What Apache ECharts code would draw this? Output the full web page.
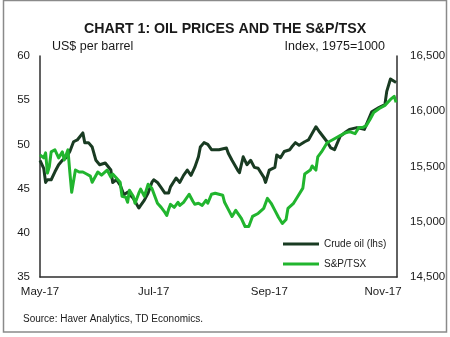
<!DOCTYPE html>
<html>
<head>
<meta charset="utf-8">
<script src="https://cdn.jsdelivr.net/npm/echarts@6/dist/echarts.min.js"></script>
<style>
  html, body { margin: 0; padding: 0; background: #fff; }
  #chart { width: 450px; height: 337px; }
</style>
</head>
<body>
<div id="chart"></div>
<script>
// Crude oil price, US$ per barrel (left axis)
const crudeDates = [
  '2017-05-01','2017-05-03','2017-05-04','2017-05-05','2017-05-07','2017-05-09','2017-05-11','2017-05-13','2017-05-15','2017-05-17',
  '2017-05-19','2017-05-21','2017-05-24','2017-05-25','2017-05-27','2017-05-29','2017-05-31',
  '2017-06-02','2017-06-05','2017-06-06','2017-06-08','2017-06-09','2017-06-11','2017-06-13','2017-06-15','2017-06-17','2017-06-20',
  '2017-06-23','2017-06-24','2017-06-26','2017-06-28','2017-06-30',
  '2017-07-01','2017-07-03','2017-07-05','2017-07-07','2017-07-09','2017-07-10','2017-07-13','2017-07-15','2017-07-17','2017-07-19',
  '2017-07-21','2017-07-23','2017-07-25','2017-07-26','2017-07-28','2017-07-30',
  '2017-08-01','2017-08-02','2017-08-05','2017-08-09','2017-08-10','2017-08-12','2017-08-15','2017-08-16','2017-08-18','2017-08-20',
  '2017-08-22','2017-08-24','2017-08-26','2017-08-29','2017-08-30',
  '2017-09-01','2017-09-04','2017-09-05','2017-09-07','2017-09-09','2017-09-12','2017-09-13','2017-09-15','2017-09-17','2017-09-20',
  '2017-09-22','2017-09-26','2017-09-28',
  '2017-10-02','2017-10-04','2017-10-06','2017-10-07','2017-10-09','2017-10-12','2017-10-14','2017-10-18','2017-10-22','2017-10-26',
  '2017-10-30',
  '2017-11-02','2017-11-03','2017-11-05','2017-11-06','2017-11-08'
];
const crudeValues = [
  48.2, 47.3, 45.7, 46.0, 46.0, 46.9, 47.7, 48.2, 48.5, 49.2,
  50.3, 50.5, 51.3, 50.2, 50.2, 49.7, 48.2,
  47.7, 47.9, 48.0, 47.1, 45.7, 46.0, 45.4, 44.3, 44.6, 43.9,
  42.8, 43.1, 43.7, 44.5, 45.7,
  46.0, 45.7, 45.1, 44.5, 44.5, 45.2, 46.2, 45.7, 46.5, 47.1,
  46.5, 47.4, 48.6, 49.7, 50.2, 50.0,
  49.4, 49.6, 49.4, 49.6, 49.0, 48.2, 47.1, 46.8, 48.6, 47.7,
  48.2, 47.4, 47.3, 46.3, 45.7,
  47.1, 47.4, 48.8, 48.5, 49.2, 49.4, 49.7, 50.2, 49.9, 50.3,
  50.5, 52.0, 51.4,
  50.3, 49.6, 49.4, 49.4, 50.9, 51.4, 51.7, 51.9, 51.7, 53.7,
  54.2,
  54.5, 56.0, 57.4, 57.4, 57.0
];

// S&P/TSX composite index, 1975=1000 (right axis)
const tsxDates = [
  '2017-05-01','2017-05-03','2017-05-04','2017-05-05','2017-05-06','2017-05-07','2017-05-09','2017-05-11','2017-05-13','2017-05-14',
  '2017-05-16','2017-05-17','2017-05-18','2017-05-19','2017-05-20','2017-05-22','2017-05-24','2017-05-26','2017-05-28','2017-05-29',
  '2017-06-01','2017-06-03','2017-06-06','2017-06-08','2017-06-09','2017-06-11','2017-06-13','2017-06-14','2017-06-16','2017-06-17',
  '2017-06-18','2017-06-20','2017-06-21','2017-06-23','2017-06-24','2017-06-26','2017-06-28','2017-06-30',
  '2017-07-02','2017-07-03','2017-07-05','2017-07-07','2017-07-08','2017-07-09','2017-07-10','2017-07-12','2017-07-14','2017-07-15',
  '2017-07-17','2017-07-18','2017-07-20','2017-07-22','2017-07-23','2017-07-25','2017-07-27','2017-07-29','2017-07-30',
  '2017-08-01','2017-08-03','2017-08-04','2017-08-07','2017-08-08','2017-08-10','2017-08-12','2017-08-14','2017-08-15','2017-08-17',
  '2017-08-19','2017-08-21','2017-08-23','2017-08-24','2017-08-26','2017-08-29','2017-08-31',
  '2017-09-02','2017-09-04','2017-09-06','2017-09-08','2017-09-10','2017-09-11','2017-09-14','2017-09-16','2017-09-19','2017-09-20',
  '2017-09-23','2017-09-24','2017-09-26','2017-09-27','2017-09-29',
  '2017-10-02','2017-10-05','2017-10-06','2017-10-09','2017-10-12','2017-10-14','2017-10-17','2017-10-19','2017-10-21','2017-10-23',
  '2017-10-25','2017-10-27','2017-10-30',
  '2017-11-02','2017-11-05','2017-11-07','2017-11-08'
];
const tsxValues = [
  15605, 15578, 15623, 15440, 15500, 15632, 15651, 15578, 15632, 15559,
  15651, 15450, 15267, 15285, 15468, 15450, 15450, 15432, 15413, 15358,
  15450, 15422, 15468, 15404, 15432, 15395, 15358, 15231, 15222, 15176,
  15285, 15231, 15167, 15258, 15295, 15231, 15340, 15304,
  15212, 15167, 15130, 15085, 15057, 15112, 15158, 15130, 15176, 15148,
  15176, 15167, 15249, 15185, 15158, 15167, 15148, 15194, 15167,
  15249, 15258, 15240, 15240, 15176, 15112, 15048, 15103, 15085, 15030,
  14957, 14957, 15048, 15057, 15075, 15121, 15212,
  15167, 15103, 15039, 14984, 15021, 15121, 15167, 15222, 15304, 15432,
  15468, 15505, 15468, 15587, 15632,
  15715, 15742, 15733, 15779, 15806, 15815, 15797, 15852, 15852, 15870,
  15925, 15989, 16025,
  16053, 16107, 16135, 16080
];

// Axis ticks and ranges
const monthTicks = ['2017-05-01', '2017-07-01', '2017-09-01', '2017-11-01'];
const xStart = '2017-05-01';
const xEnd = '2017-11-08';
const leftAxis = { min: 35, max: 60, step: 5 };
const rightAxis = { min: 14500, max: 16500, step: 500 };

const MONTHS = ['Jan','Feb','Mar','Apr','May','Jun','Jul','Aug','Sep','Oct','Nov','Dec'];
const DAY = 24 * 3600 * 1000;

function ts(s) {
  const [y, m, d] = s.split('-').map(Number);
  return Date.UTC(y, m - 1, d);
}
function pairs(dates, values) {
  return dates.map((d, i) => [ts(d), values[i]]);
}
function monthLabel(v) {
  const d = new Date(v);
  return MONTHS[d.getUTCMonth()] + '-' + String(d.getUTCFullYear()).slice(2);
}

const FONT = '"Liberation Sans", Arial, sans-serif';
const INK = '#1a1a1a';
const AXIS = '#2e2e2e';
const CRUDE = '#193b22';
const TSX = '#21b52e';

const chart = echarts.init(document.getElementById('chart'), null, { renderer: 'canvas' });

chart.setOption({
  animation: false,
  backgroundColor: '#ffffff',
  textStyle: { fontFamily: FONT, color: INK },
  title: {
    text: 'CHART 1: OIL PRICES AND THE S&P/TSX',
    left: 'center',
    top: 17,
    textStyle: { fontFamily: FONT, fontSize: 14.2, fontWeight: 'bold', color: INK }
  },
  grid: { left: 40, right: 53, top: 56, bottom: 60 },
  xAxis: {
    // dates are placed on a linear millisecond scale
    type: 'value',
    min: ts(xStart),
    max: ts(xEnd) + DAY / 2,
    axisLine: { show: true, lineStyle: { color: AXIS, width: 1.5 } },
    axisTick: { show: false },
    splitLine: { show: false },
    axisLabel: {
      customValues: monthTicks.map(ts),
      formatter: monthLabel,
      margin: 9,
      fontSize: 11.5,
      color: INK,
      fontFamily: FONT
    }
  },
  yAxis: [
    {
      type: 'value',
      position: 'left',
      min: leftAxis.min,
      max: leftAxis.max,
      interval: leftAxis.step,
      axisLine: { show: true, lineStyle: { color: AXIS, width: 1.5 } },
      axisTick: { show: false },
      splitLine: { show: false },
      axisLabel: { margin: 10, fontSize: 11.5, color: INK, fontFamily: FONT }
    },
    {
      type: 'value',
      position: 'right',
      min: rightAxis.min,
      max: rightAxis.max,
      interval: rightAxis.step,
      axisLine: { show: true, lineStyle: { color: AXIS, width: 1.5 } },
      axisTick: { show: false },
      splitLine: { show: false },
      axisLabel: {
        margin: 13,
        fontSize: 11.5,
        color: INK,
        fontFamily: FONT,
        formatter: v => v.toLocaleString('en-US')
      }
    }
  ],
  legend: {
    orient: 'vertical',
    left: 278,
    top: 232,
    icon: 'rect',
    itemWidth: 36,
    itemHeight: 3,
    itemGap: 6,
    textStyle: { fontSize: 10, lineHeight: 14, color: INK, fontFamily: FONT },
    data: [
      { name: 'Crude oil (lhs)', itemStyle: { color: CRUDE } },
      { name: 'S&P/TSX', itemStyle: { color: TSX } }
    ]
  },
  series: [
    {
      name: 'Crude oil (lhs)',
      type: 'line',
      yAxisIndex: 0,
      symbol: 'none',
      showSymbol: false,
      lineStyle: { color: CRUDE, width: 3, join: 'round' },
      itemStyle: { color: CRUDE },
      data: pairs(crudeDates, crudeValues)
    },
    {
      name: 'S&P/TSX',
      type: 'line',
      yAxisIndex: 1,
      symbol: 'none',
      showSymbol: false,
      lineStyle: { color: TSX, width: 3, join: 'round' },
      itemStyle: { color: TSX },
      data: pairs(tsxDates, tsxValues)
    }
  ],
  graphic: [
    {
      type: 'rect',
      silent: true,
      shape: { x: 3.5, y: 0.5, width: 443, height: 331.5 },
      style: { fill: 'none', stroke: '#8a8a8a', lineWidth: 1.5 }
    },
    {
      type: 'text',
      left: 52,
      top: 40,
      style: { text: 'US$ per barrel', fontSize: 12.5, fontFamily: FONT, fill: INK }
    },
    {
      type: 'text',
      right: 65,
      top: 40,
      style: { text: 'Index, 1975=1000', fontSize: 12.5, fontFamily: FONT, fill: INK }
    },
    {
      type: 'text',
      left: 23,
      top: 314,
      style: { text: 'Source: Haver Analytics, TD Economics.', fontSize: 10, fontFamily: FONT, fill: INK }
    }
  ]
});
</script>
</body>
</html>
